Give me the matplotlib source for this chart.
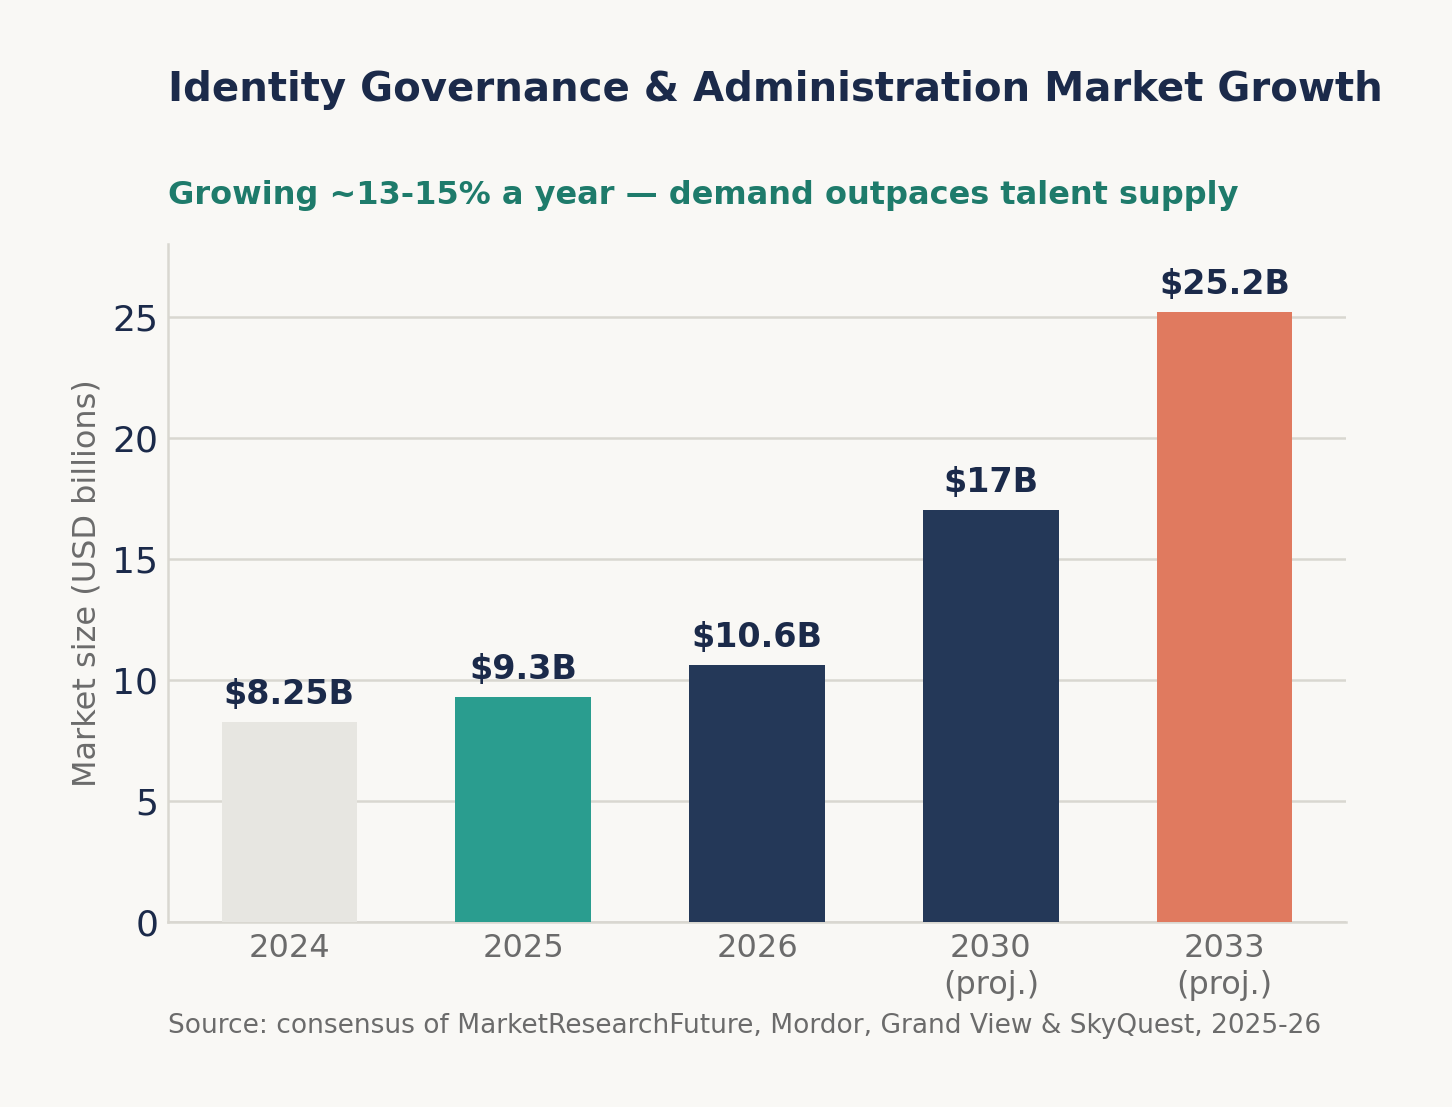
import matplotlib.pyplot as plt
import matplotlib as mpl

mpl.rcParams['font.family'] = ['DejaVu Sans']

background_color = '#f9f8f5'
navy = '#1b2a4a'
grid_color = '#d9d7d0'
muted = '#6b6b6b'

years = ['2024', '2025', '2026', '2030\n(proj.)', '2033\n(proj.)']
market_size = [8.25, 9.3, 10.6, 17.0, 25.2]
value_labels = ['$8.25B', '$9.3B', '$10.6B', '$17B', '$25.2B']
bar_colors = ['#e7e6e1', '#2a9d8f', '#243858', '#243858', '#e07a5f']


def market_chart():
    fig = plt.figure(figsize=(7.26, 5.535), dpi=200, facecolor=background_color)
    ax = fig.add_axes([0.1157, 0.167, 0.8113, 0.6126])
    ax.set_facecolor(background_color)

    x = range(len(years))
    ax.bar(x, market_size, width=0.58, color=bar_colors, zorder=3)

    for xi, v, lab in zip(x, market_size, value_labels):
        ax.annotate(
            lab,
            (xi, v),
            xytext=(0, 4),
            textcoords='offset points',
            ha='center',
            va='bottom',
            fontsize=12,
            fontweight='bold',
            color=navy,
            zorder=4
        )

    ax.set_ylim(0, 28)
    ax.set_yticks([0, 5, 10, 15, 20, 25])
    ax.set_xticks(list(x))
    ax.set_xticklabels(years, fontsize=11.5, color=muted, linespacing=1.25)
    ax.tick_params(axis='y', labelsize=13, labelcolor=navy, length=0, pad=3.5)
    ax.tick_params(axis='x', length=0, pad=4)

    ax.grid(axis='y', color=grid_color, linewidth=0.9, zorder=0)
    ax.set_axisbelow(True)
    for side in ['top', 'right']:
        ax.spines[side].set_visible(False)
    for side in ['left', 'bottom']:
        ax.spines[side].set_color(grid_color)
        ax.spines[side].set_linewidth(0.9)

    ax.set_ylabel('Market size (USD billions)', fontsize=11.5, color=muted, labelpad=3.5)

    fig.text(0.1157, 0.9085, 'Identity Governance & Administration Market Growth',
             fontsize=14.5, fontweight='bold', color=navy, ha='left', va='baseline')
    fig.text(0.1157, 0.8156, 'Growing ~13-15% a year \u2014 demand outpaces talent supply',
             fontsize=11.5, fontweight='bold', color='#1e7b6b', ha='left', va='baseline')
    fig.text(0.1157, 0.0668,
             'Source: consensus of MarketResearchFuture, Mordor, Grand View & SkyQuest, 2025-26',
             fontsize=9.5, color=muted, ha='left', va='baseline')

    fig.savefig('out.png', dpi=200, facecolor=background_color)


if __name__ == '__main__':
    market_chart()
